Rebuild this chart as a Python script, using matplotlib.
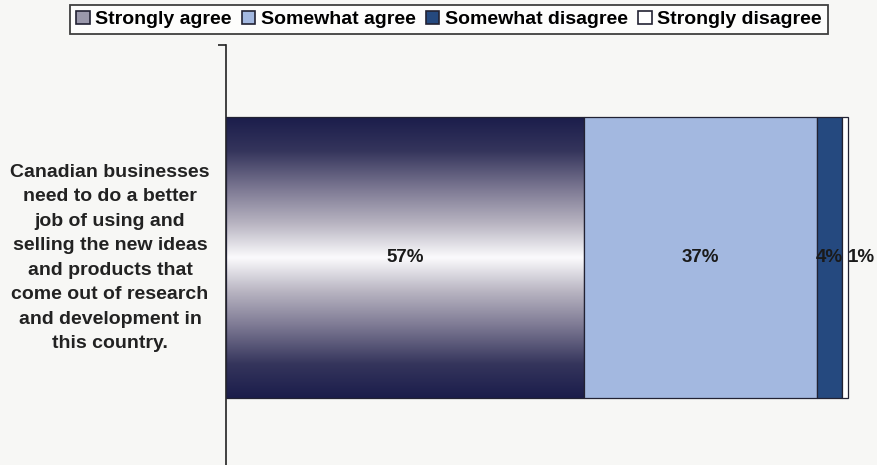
import numpy as np
import matplotlib
matplotlib.use("Agg")
import matplotlib.pyplot as plt
from matplotlib.colors import LinearSegmentedColormap
from matplotlib.patches import Patch

plt.rcParams['font.family'] = ['Liberation Sans', 'DejaVu Sans']
plt.rcParams['font.weight'] = 'bold'

statement = ("Canadian businesses\nneed to do a better\njob of using and\n"
             "selling the new ideas\nand products that\ncome out of research\n"
             "and development in\nthis country.")
series_names = ["Strongly agree", "Somewhat agree", "Somewhat disagree", "Strongly disagree"]
values = [57, 37, 4, 1]
colors = ["none", "#a3b8e0", "#25497f", "#ffffff"]

bg = "#f7f7f5"
fig = plt.figure(figsize=(8.77, 4.65), dpi=100, facecolor=bg)
ax = fig.add_axes([226/877, -5/465, 628.3/877, 425/465])
ax.set_facecolor(bg)

bar_h = 0.66
left = 0
patches = []
for v, c in zip(values, colors):
    p = ax.barh(0, v, left=left, height=bar_h, color=c,
                edgecolor="#222233", linewidth=0.9, zorder=3)[0]
    patches.append(p)
    left += v

# vertical navy-white-navy gradient fill for the first segment
grad_cmap = LinearSegmentedColormap.from_list(
    "navy_shine",
    [(0.0, "#1b1d4b"), (0.12, "#35355c"), (0.26, "#7f7b95"), (0.38, "#b9b5c2"),
     (0.50, "#fbfbfd"), (0.62, "#b9b5c2"), (0.74, "#7f7b95"), (0.88, "#35355c"),
     (1.0, "#1b1d4b")])
p0 = patches[0]
grad = np.linspace(0, 1, 256).reshape(-1, 1)
im = ax.imshow(grad, cmap=grad_cmap, aspect="auto",
               extent=[p0.get_x(), p0.get_x() + p0.get_width(),
                       p0.get_y(), p0.get_y() + p0.get_height()],
               zorder=2, interpolation="bilinear")
im.set_clip_path(p0)

# value labels
fs = 13.5
left = 0
for i, v in enumerate(values):
    if i < len(values) - 1:
        ax.text(left + v / 2, 0, f"{v}%", ha="center", va="center",
                fontsize=fs, fontweight="bold", color="#1a1a1a", zorder=5)
    else:
        ax.annotate(f"{v}%", xy=(left + v, 0), xytext=(0, 0),
                    textcoords="offset points", ha="left", va="center",
                    fontsize=fs, fontweight="bold", color="#1a1a1a", zorder=5)
    left += v

ax.set_xlim(0, 100)
ax.set_ylim(-0.5, 0.5)
for s in ["top", "right", "bottom"]:
    ax.spines[s].set_visible(False)
ax.spines["left"].set_color("#222222")
ax.spines["left"].set_linewidth(1.2)
ax.set_xticks([])
ax.set_yticks([-0.5, 0.5])
ax.set_yticklabels([])
ax.tick_params(axis="y", length=6, width=1.2, color="#222222")

fig.text(110/877, 1 - 258/465, statement, ha="center", va="center",
         fontsize=14, fontweight="bold", color="#222222", linespacing=1.57)

handles = [
    Patch(facecolor="#9a98ab", edgecolor="#222233", linewidth=1.2),
    Patch(facecolor=colors[1], edgecolor="#222233", linewidth=1.2),
    Patch(facecolor=colors[2], edgecolor="#222233", linewidth=1.2),
    Patch(facecolor=colors[3], edgecolor="#222233", linewidth=1.2),
]
leg = fig.legend(handles, series_names, loc="upper center",
                 bbox_to_anchor=(449/877, 1 - 5/465), ncol=4,
                 handlelength=0.7, handleheight=0.7, handletextpad=0.3,
                 columnspacing=0.5, borderpad=0.3, borderaxespad=0,
                 fancybox=False, prop={"size": 14, "weight": "bold"})
leg.get_frame().set_edgecolor("#111111")
leg.get_frame().set_linewidth(1.3)
leg.get_frame().set_facecolor("#ffffff")

fig.savefig("out.png", dpi=100, facecolor=bg)
